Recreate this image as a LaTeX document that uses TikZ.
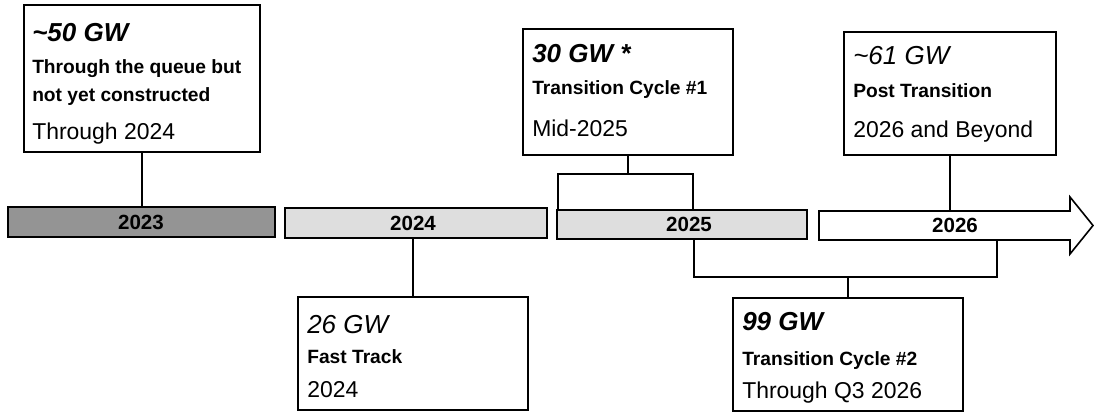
\documentclass[tikz,border=0pt]{standalone}
\usepackage{fontspec}
\setmainfont{Liberation Sans}
\usetikzlibrary{fit}
\begin{document}
\begin{tikzpicture}[x=0.75pt,y=-0.75pt,
  box/.style={draw=black,line width=1.1pt,inner sep=0pt,fill=white},
  bar/.style={draw=black,line width=1.2pt,inner sep=0pt},
  conn/.style={draw=black,line width=1.1pt},
  head/.style={anchor=base west,inner sep=0pt,font=\fontsize{19.5}{20}\selectfont\itshape},
  headb/.style={head,font=\fontsize{19.5}{20}\selectfont\bfseries\itshape},
  sub/.style={anchor=base west,inner sep=0pt,font=\fontsize{14.4}{15}\selectfont\bfseries},
  reg/.style={anchor=base west,inner sep=0pt,font=\fontsize{17.2}{18}\selectfont},
  yr/.style={anchor=base,inner sep=0pt,font=\fontsize{15.4}{16}\selectfont\bfseries}]
\useasboundingbox (0,0) rectangle (1094,413);
\fill[white] (0,0) rectangle (1094,413);

% bars
\node[bar,fill=black!42,fit={(8,207) (275,237)}] (bar23) {};
\node[bar,fill=black!13,fit={(285,208) (547,238)}] (bar24) {};
\node[bar,fill=black!13,fit={(557,210) (807,239)}] (bar25) {};
\draw[bar,fill=white] (819,211) -- (1070,211) -- (1070,197) -- (1093,225.5) -- (1070,254) -- (1070,240) -- (819,240) -- cycle;
\coordinate (a26top) at (950,211);
\coordinate (a26bot) at (997,240);

\node[yr] (y23) at (141,229) {2023};
\node[yr] (y24) at (413,230) {2024};
\node[yr] (y25) at (689,231) {2025};
\node[yr] (y26) at (955,232) {2026};

% boxes
\node[box,fit={(24,5) (260,152)}] (b1) {};
\node[headb] (t1a) at (32,42) {\textasciitilde50 GW};
\node[sub] (t1b) at (32,74) {Through the queue but};
\node[sub] (t1c) at (32,102) {not yet constructed};
\node[reg] (t1d) at (32,140) {Through 2024};

\node[box,fit={(523,29) (733,155)}] (b2) {};
\node[headb] (t2a) at (532,63) {30 GW *};
\node[sub] (t2b) at (532,95) {Transition Cycle \#1};
\node[reg] (t2c) at (532,137) {Mid-2025};

\node[box,fit={(844,32) (1056,155)}] (b3) {};
\node[head] (t3a) at (853,65) {\textasciitilde61 GW};
\node[sub] (t3b) at (853,98) {Post Transition};
\node[reg] (t3c) at (853,138) {2026 and Beyond};

\node[box,fit={(298,297) (528,410)}] (b4) {};
\node[head] (t4a) at (307,333) {26 GW};
\node[sub] (t4b) at (307,363) {Fast Track};
\node[reg] (t4c) at (307,397) {2024};

\node[box,fit={(733,298) (963,411)}] (b5) {};
\node[headb] (t5a) at (742,330) {99 GW};
\node[sub] (t5b) at (742,365) {Transition Cycle \#2};
\node[reg] (t5c) at (742,398) {Through Q3 2026};

% connectors
\draw[conn] (b1.south) -- (b1.south |- bar23.north);
\draw[conn] (b3.south) -- (a26top);
\draw[conn] (bar24.south -| b4.north) -- (b4.north);

\coordinate (k1) at (558,174);
\coordinate (k2) at (693,174);
\draw[conn] (b2.south) -- (b2.south |- k1);
\draw[conn] (bar25.north -| k1) -- (k1) -- (k2) -- (bar25.north -| k2);

\coordinate (m1) at (694,277);
\coordinate (m2) at (997,277);
\draw[conn] (bar25.south -| m1) -- (m1) -- (m2) -- (a26bot);
\draw[conn] (b5.north) -- (b5.north |- m1);
\end{tikzpicture}
\end{document}
